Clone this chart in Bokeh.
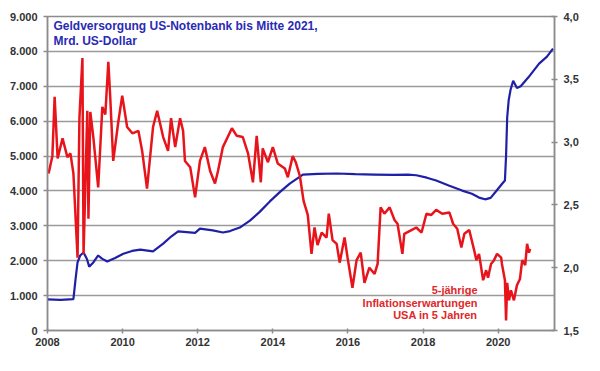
from bokeh.plotting import figure
from bokeh.models import Range1d, LinearAxis, FixedTicker, CustomJSTickFormatter, Label
from bokeh.embed import file_html
from bokeh.resources import INLINE

# Fed balance sheet (Mrd. US-Dollar, left axis)
blue_year = [2008.0, 2008.35, 2008.69, 2008.75, 2008.80, 2008.87, 2008.96, 2009.05, 2009.11, 2009.22,
             2009.35, 2009.45, 2009.59, 2009.80, 2010.02, 2010.25, 2010.47, 2010.81, 2011.08, 2011.30,
             2011.48, 2011.93, 2012.06, 2012.40, 2012.67, 2012.86, 2013.12, 2013.39, 2013.65, 2013.92,
             2014.20, 2014.45, 2014.80, 2015.20, 2015.70, 2016.20, 2016.70, 2017.20, 2017.60, 2017.82,
             2018.10, 2018.35, 2018.70, 2019.04, 2019.30, 2019.49, 2019.65, 2019.80, 2019.95, 2020.10,
             2020.18, 2020.21, 2020.24, 2020.28, 2020.33, 2020.40, 2020.50, 2020.60, 2020.80, 2021.09,
             2021.30, 2021.46]
blue_val = [890, 880, 900, 1500, 1950, 2150, 2235, 2050, 1830, 1950,
            2150, 2060, 1980, 2080, 2200, 2280, 2320, 2270, 2490, 2700,
            2840, 2800, 2920, 2870, 2810, 2850, 2950, 3150, 3400, 3700,
            3980, 4210, 4470, 4490, 4500, 4480, 4470, 4460, 4470, 4450,
            4380, 4300, 4150, 4010, 3920, 3810, 3760, 3800, 4000, 4200,
            4300, 5000, 6100, 6600, 6900, 7160, 6950, 7000, 7250, 7650,
            7850, 8080]

# 5-year inflation expectations in 5 years (%, right axis)
red_year = [2008.03, 2008.13, 2008.19, 2008.27, 2008.40, 2008.53, 2008.61, 2008.69, 2008.80, 2008.85,
            2008.93, 2008.96, 2009.06, 2009.09, 2009.14, 2009.22, 2009.35, 2009.46, 2009.54, 2009.62,
            2009.67, 2009.75, 2009.88, 2009.99, 2010.12, 2010.26, 2010.42, 2010.52, 2010.65, 2010.81,
            2010.92, 2011.08, 2011.21, 2011.29, 2011.40, 2011.53, 2011.61, 2011.66, 2011.80, 2011.93,
            2012.06, 2012.19, 2012.33, 2012.46, 2012.54, 2012.67, 2012.91, 2013.04, 2013.20, 2013.34,
            2013.47, 2013.57, 2013.68, 2013.73, 2013.87, 2014.00, 2014.13, 2014.32, 2014.40, 2014.53,
            2014.61, 2014.72, 2014.82, 2014.93, 2015.03, 2015.11, 2015.19, 2015.30, 2015.43, 2015.49,
            2015.59, 2015.70, 2015.78, 2015.91, 2015.99, 2016.12, 2016.23, 2016.34, 2016.44, 2016.57,
            2016.71, 2016.79, 2016.87, 2016.97, 2017.11, 2017.24, 2017.32, 2017.45, 2017.50, 2017.69,
            2017.82, 2017.96, 2018.09, 2018.22, 2018.35, 2018.51, 2018.70, 2018.80, 2018.91, 2019.02,
            2019.10, 2019.23, 2019.36, 2019.42, 2019.49, 2019.60, 2019.68, 2019.73, 2019.81, 2019.89,
            2019.97, 2020.08, 2020.10, 2020.18, 2020.21, 2020.24, 2020.29, 2020.34, 2020.42, 2020.50,
            2020.58, 2020.64, 2020.72, 2020.77, 2020.82, 2020.85]
red_val = [2.75, 2.89, 3.36, 2.87, 3.03, 2.88, 2.91, 2.75, 2.08, 3.19,
           3.67, 2.11, 3.25, 2.39, 3.24, 3.04, 2.64, 3.28, 3.22, 3.64,
           3.36, 2.85, 3.15, 3.37, 3.12, 3.07, 3.09, 2.93, 2.63, 3.12,
           3.25, 3.04, 2.93, 3.19, 2.96, 3.19, 3.09, 2.85, 2.80, 2.56,
           2.85, 2.96, 2.77, 2.67, 2.77, 2.96, 3.11, 3.05, 3.04, 2.91,
           2.68, 3.05, 2.68, 2.95, 2.84, 2.96, 2.83, 2.79, 2.72, 2.89,
           2.84, 2.73, 2.53, 2.42, 2.11, 2.32, 2.18, 2.28, 2.24, 2.43,
           2.22, 2.19, 2.04, 2.24, 2.08, 1.84, 2.06, 2.12, 1.88, 2.00,
           1.95, 2.03, 2.48, 2.43, 2.48, 2.38, 2.35, 2.11, 2.27, 2.30,
           2.32, 2.28, 2.43, 2.42, 2.46, 2.43, 2.44, 2.35, 2.31, 2.16,
           2.27, 2.30, 2.14, 2.06, 2.11, 1.90, 1.98, 1.92, 2.03, 2.06,
           2.11, 2.08, 2.03, 1.90, 1.58, 1.88, 1.74, 1.82, 1.74, 1.86,
           1.91, 2.06, 2.02, 2.19, 2.12, 2.15]

x_ticks = [2008, 2010, 2012, 2014, 2016, 2018, 2020]
left_ticks = [0, 1000, 2000, 3000, 4000, 5000, 6000, 7000, 8000, 9000]
right_ticks = [1.5, 2.0, 2.5, 3.0, 3.5, 4.0]

FONT = "Liberation Sans"
LABEL_COLOR = "#333333"
AXIS_COLOR = "#8c8c8c"

p = figure(width=600, height=371, output_backend="svg", toolbar_location=None,
           x_range=Range1d(2008, 2021.5), y_range=Range1d(0, 9000),
           min_border_left=47, min_border_right=46, min_border_top=16, min_border_bottom=41,
           background_fill_color="white", border_fill_color="white")
p.extra_y_ranges = {"right": Range1d(1.5, 4.0)}
p.outline_line_color = AXIS_COLOR
p.outline_line_width = 1.5

p.xgrid.visible = False
p.ygrid.ticker = FixedTicker(ticks=left_ticks)
p.ygrid.grid_line_color = "#9a9a9a"
p.ygrid.grid_line_width = 1.5

xa = p.xaxis[0]
xa.ticker = FixedTicker(ticks=x_ticks)
xa.formatter = CustomJSTickFormatter(code="return tick.toFixed(0);")
xa.major_tick_in = 2
xa.major_tick_out = 3
xa.major_label_standoff = 4

ya = p.yaxis[0]
ya.ticker = FixedTicker(ticks=left_ticks)
ya.formatter = CustomJSTickFormatter(code="return tick == 0 ? '0' : (tick/1000).toFixed(0) + '.000';")
ya.major_tick_in = 0
ya.major_tick_out = 4
ya.major_label_standoff = 6

ra = LinearAxis(y_range_name="right", ticker=FixedTicker(ticks=right_ticks),
                formatter=CustomJSTickFormatter(code="return tick.toFixed(1).replace('.', ',');"))
ra.major_tick_in = 3
ra.major_tick_out = 3
ra.major_label_standoff = 6
p.add_layout(ra, "right")

for ax in (xa, ya, ra):
    ax.axis_line_color = AXIS_COLOR
    ax.axis_line_width = 1.5
    ax.major_tick_line_color = AXIS_COLOR
    ax.major_tick_line_width = 1.5
    ax.minor_tick_line_color = None
    ax.major_label_text_font = FONT
    ax.major_label_text_font_style = "bold"
    ax.major_label_text_font_size = "11px"
    ax.major_label_text_color = LABEL_COLOR

p.line(blue_year, blue_val, line_color="#1f1fa8", line_width=2.2)
p.line(red_year, red_val, y_range_name="right", line_color="#e8141c", line_width=2.5)

p.add_layout(Label(x=2008.16, y=8930, text="Geldversorgung US-Notenbank bis Mitte 2021,\nMrd. US-Dollar",
                   text_font=FONT, text_font_style="bold", text_font_size="12px",
                   text_color="#2a2ab4", text_baseline="top", text_align="left",
                   text_line_height=1.05))
p.add_layout(Label(x=2019.45, y=1330, text="5-jährige\nInflationserwartungen\nUSA in 5 Jahren",
                   text_font=FONT, text_font_style="bold", text_font_size="11px",
                   text_color="#e02828", text_baseline="top", text_align="right",
                   text_line_height=1.05))
p.add_layout(Label(x=2021.5, y=0, x_offset=43, y_offset=-32, text="Quelle: Refinitiv",
                   text_font=FONT, text_font_style="bold", text_font_size="11px",
                   text_color=LABEL_COLOR, text_baseline="middle", text_align="right"))

open("out.html", "w").write(file_html(p, INLINE))
